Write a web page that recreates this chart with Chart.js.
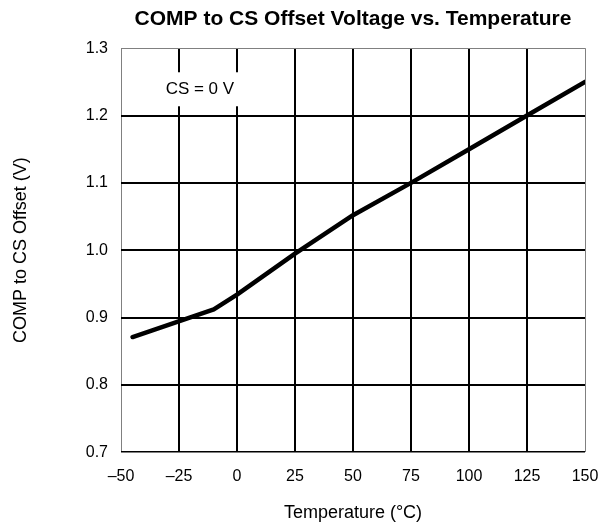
<!DOCTYPE html>
<html>
<head>
<meta charset="utf-8">
<script src="https://cdn.jsdelivr.net/npm/chart.js@4"></script>
<style>
    html, body { margin: 0; padding: 0; background: #fff; }
    #wrap { width: 603px; height: 524px; }
</style>
</head>
<body>
<div id="wrap"><canvas id="chart"></canvas></div>
<script>
// Data
const temps = [-45, -10, 0, 25, 50, 75, 100, 125, 150];
const offsetVolts = [0.871, 0.912, 0.934, 0.995, 1.052, 1.100, 1.150, 1.200, 1.250];

const xTickValues = [-50, -25, 0, 25, 50, 75, 100, 125, 150];
const xTickLabels = ['\u201350', '\u201325', '0', '25', '50', '75', '100', '125', '150'];
const yTickValues = [0.7, 0.8, 0.9, 1.0, 1.1, 1.2, 1.3];
const yTickLabels = ['0.7', '0.8', '0.9', '1.0', '1.1', '1.2', '1.3'];

const noteText = 'CS = 0 V';
const noteAt = { x: -16, y: 1.239 };

const FONT = "'Liberation Sans', Arial, sans-serif";

// Small label with white backing, sits on top of the grid
const notePlugin = {
    id: 'note',
    beforeDatasetsDraw(chart) {
        const ctx = chart.ctx;
        const px = chart.scales.x.getPixelForValue(noteAt.x);
        const py = chart.scales.y.getPixelForValue(noteAt.y);
        ctx.save();
        ctx.fillStyle = '#fff';
        ctx.fillRect(px - 42, py - 17, 84, 34);
        ctx.font = '17px ' + FONT;
        ctx.fillStyle = '#000';
        ctx.textAlign = 'center';
        ctx.textBaseline = 'middle';
        ctx.fillText(noteText, px, py);
        ctx.restore();
    }
};

const isNear = (a, b) => Math.abs(a - b) < 1e-6;

const ctx = document.getElementById('chart').getContext('2d');
new Chart(ctx, {
    type: 'scatter',
    data: {
        datasets: [{
            data: temps.map((t, i) => ({ x: t, y: offsetVolts[i] })),
            showLine: true,
            borderColor: '#000',
            borderWidth: 4.5,
            borderCapStyle: 'round',
            borderJoinStyle: 'round',
            pointRadius: 0,
            tension: 0
        }]
    },
    options: {
        responsive: true,
        maintainAspectRatio: false,
        animation: false,
        layout: { padding: { left: 0, right: 18, top: 0, bottom: 0 } },
        plugins: {
            legend: { display: false },
            tooltip: { enabled: false },
            title: {
                display: true,
                fullSize: false,
                text: 'COMP to CS Offset Voltage vs. Temperature',
                color: '#000',
                font: { family: FONT, size: 21, weight: 'bold' },
                padding: { top: 7, bottom: 16 }
            }
        },
        scales: {
            x: {
                type: 'linear',
                min: -50,
                max: 150,
                afterBuildTicks: scale => { scale.ticks = xTickValues.map(v => ({ value: v })); },
                afterFit: scale => { scale.paddingLeft = 0; scale.paddingRight = 0; },
                ticks: {
                    color: '#000',
                    font: { family: FONT, size: 16 },
                    padding: 15,
                    maxRotation: 0,
                    callback: (v) => xTickLabels[xTickValues.indexOf(v)]
                },
                grid: {
                    drawTicks: false,
                    color: c => (c.tick && (c.tick.value === -50 || c.tick.value === 150)) ? '#808080' : '#000',
                    lineWidth: c => (c.tick && (c.tick.value === -50 || c.tick.value === 150)) ? 1 : 2
                },
                border: { display: false },
                title: {
                    display: true,
                    text: 'Temperature (\u00B0C)',
                    color: '#000',
                    font: { family: FONT, size: 18 },
                    padding: { top: 1, bottom: 0 }
                }
            },
            y: {
                min: 0.7,
                max: 1.3,
                afterBuildTicks: scale => { scale.ticks = yTickValues.map(v => ({ value: v })); },
                afterFit: scale => { scale.width = 121; },
                ticks: {
                    color: '#000',
                    font: { family: FONT, size: 16 },
                    padding: 13,
                    callback: (v) => yTickLabels[yTickValues.findIndex(t => isNear(t, v))]
                },
                grid: {
                    drawTicks: false,
                    color: c => (c.tick && isNear(c.tick.value, 1.3)) ? '#808080' : '#000',
                    lineWidth: c => {
                        if (!c.tick) return 2;
                        if (isNear(c.tick.value, 1.3)) return 1;
                        if (isNear(c.tick.value, 0.7)) return 1.5;
                        return 2;
                    }
                },
                border: { display: false },
                title: {
                    display: true,
                    text: 'COMP to CS Offset (V)',
                    color: '#000',
                    font: { family: FONT, size: 18 },
                    padding: { top: 10, bottom: 0 }
                }
            }
        }
    },
    plugins: [notePlugin]
});
</script>
</body>
</html>
